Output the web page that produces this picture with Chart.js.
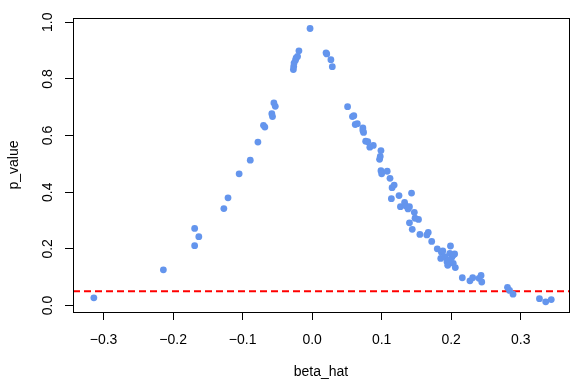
<!DOCTYPE html>
<html>
<head>
<meta charset="utf-8">
<script src="https://cdn.jsdelivr.net/npm/chart.js@4/dist/chart.umd.min.js"></script>
<style>
  html, body { margin: 0; padding: 0; background: #fff; }
  canvas { display: block; }
</style>
</head>
<body>
<canvas id="volcano" width="581" height="389"></canvas>
<script>
// estimated coefficient and its p-value
const betaHat = [
  -0.314, -0.214, -0.169, -0.169, -0.163, -0.127, -0.121, -0.105, -0.089, -0.078,
  -0.070, -0.068, -0.058, -0.057, -0.055, -0.053, -0.027, -0.0265, -0.026, -0.024,
  -0.023, -0.021, -0.019, -0.003, 0.020, 0.021, 0.027, 0.029, 0.051, 0.058,
  0.060, 0.062, 0.065, 0.073, 0.074, 0.073, 0.077, 0.080, 0.083, 0.088,
  0.099, 0.098, 0.097, 0.099, 0.100, 0.108, 0.112, 0.115, 0.118, 0.114,
  0.125, 0.127, 0.133, 0.135, 0.138, 0.140, 0.143, 0.147, 0.148, 0.140,
  0.144, 0.153, 0.155, 0.167, 0.165, 0.172, 0.180, 0.186, 0.188, 0.185,
  0.191, 0.194, 0.195, 0.199, 0.198, 0.201, 0.203, 0.205, 0.203, 0.206,
  0.197, 0.216, 0.227, 0.231, 0.240, 0.243, 0.244, 0.281, 0.284, 0.289,
  0.327, 0.336, 0.344
];
const pValue = [
  0.027, 0.126, 0.272, 0.211, 0.243, 0.342, 0.380, 0.465, 0.513, 0.577,
  0.636, 0.630, 0.677, 0.667, 0.715, 0.703, 0.833, 0.844, 0.856, 0.866,
  0.874, 0.879, 0.899, 0.978, 0.892, 0.888, 0.868, 0.843, 0.702, 0.667,
  0.670, 0.639, 0.642, 0.627, 0.611, 0.618, 0.580, 0.578, 0.559, 0.565,
  0.547, 0.526, 0.516, 0.476, 0.465, 0.474, 0.449, 0.416, 0.425, 0.377,
  0.388, 0.349, 0.364, 0.351, 0.341, 0.349, 0.397, 0.329, 0.308, 0.292,
  0.269, 0.304, 0.251, 0.258, 0.249, 0.226, 0.200, 0.188, 0.193, 0.166,
  0.172, 0.154, 0.142, 0.210, 0.184, 0.170, 0.178, 0.182, 0.149, 0.134,
  0.160, 0.098, 0.087, 0.098, 0.096, 0.106, 0.083, 0.064, 0.053, 0.040,
  0.024, 0.013, 0.021
];
const cutoff = 0.05;
const xTicks = [-0.3, -0.2, -0.1, 0.0, 0.1, 0.2, 0.3];
const yTicks = [0.0, 0.2, 0.4, 0.6, 0.8, 1.0];
const xRange = [-0.344, 0.3695];
const yRange = [-0.023, 1.015];

const FONT = "'Liberation Sans', Helvetica, Arial, sans-serif";

function fmt(v) {
  // R prints a real minus sign
  return v.toFixed(1).replace("-", "\u2212");
}

var points = betaHat.map((b, i) => ({x: b, y: pValue[i]}));

// box round the plot region, like R's box()
const boxPlugin = {
  id: "box",
  afterDraw(chart) {
    const a = chart.chartArea;
    const ctx = chart.ctx;
    ctx.save();
    ctx.strokeStyle = "#000";
    ctx.lineWidth = 1;
    ctx.strokeRect(Math.round(a.left) + 0.5, Math.round(a.top) + 0.5,
                   Math.round(a.right - a.left), Math.round(a.bottom - a.top));
    ctx.restore();
  }
};

var ctx = document.getElementById("volcano");
new Chart(ctx, {
  type: "scatter",
  data: {
    datasets: [
      {
        label: "p",
        data: points,
        backgroundColor: "#6495ED",
        borderWidth: 0,
        pointRadius: 3.4,
        order: 1
      },
      {
        type: "line",
        label: "cutoff",
        data: [{x: xRange[0], y: cutoff}, {x: xRange[1], y: cutoff}],
        borderColor: "#FF0000",
        borderWidth: 2,
        borderDash: [7, 4],
        pointRadius: 0,
        fill: false,
        order: 2
      }
    ]
  },
  plugins: [boxPlugin],
  options: {
    responsive: false,
    animation: false,
    devicePixelRatio: 1,
    layout: { padding: { top: 18, right: 12, left: 0, bottom: 0 } },
    plugins: {
      legend: { display: false },
      tooltip: { enabled: false }
    },
    scales: {
      x: {
        type: "linear",
        min: xRange[0],
        max: xRange[1],
        afterBuildTicks: (s) => { s.ticks = xTicks.map(v => ({value: v})); },
        afterFit: (s) => { s.height = 77; },
        grid: { drawOnChartArea: false, drawTicks: true, tickLength: 8, color: "#000", lineWidth: 1 },
        border: { display: true, color: "#000" },
        ticks: {
          color: "#000",
          font: { family: FONT, size: 14 },
          padding: 12,
          maxRotation: 0,
          callback: (v) => fmt(v)
        },
        title: {
          display: true,
          text: "beta_hat",
          color: "#000",
          font: { family: FONT, size: 14 },
          padding: { top: 0, bottom: 8.5 }
        }
      },
      y: {
        type: "linear",
        min: yRange[0],
        max: yRange[1],
        afterBuildTicks: (s) => { s.ticks = yTicks.map(v => ({value: v})); },
        afterFit: (s) => { s.width = 73; },
        grid: { drawOnChartArea: false, drawTicks: true, tickLength: 8, color: "#000", lineWidth: 1 },
        border: { display: true, color: "#000" },
        ticks: {
          color: "#000",
          font: { family: FONT, size: 14 },
          padding: 7.5,
          minRotation: 90,
          maxRotation: 90,
          crossAlign: "center",
          callback: (v) => fmt(v)
        },
        title: {
          display: true,
          text: "p_value",
          color: "#000",
          font: { family: FONT, size: 14 },
          padding: { top: 6, bottom: 0 }
        }
      }
    }
  }
});
</script>
</body>
</html>
